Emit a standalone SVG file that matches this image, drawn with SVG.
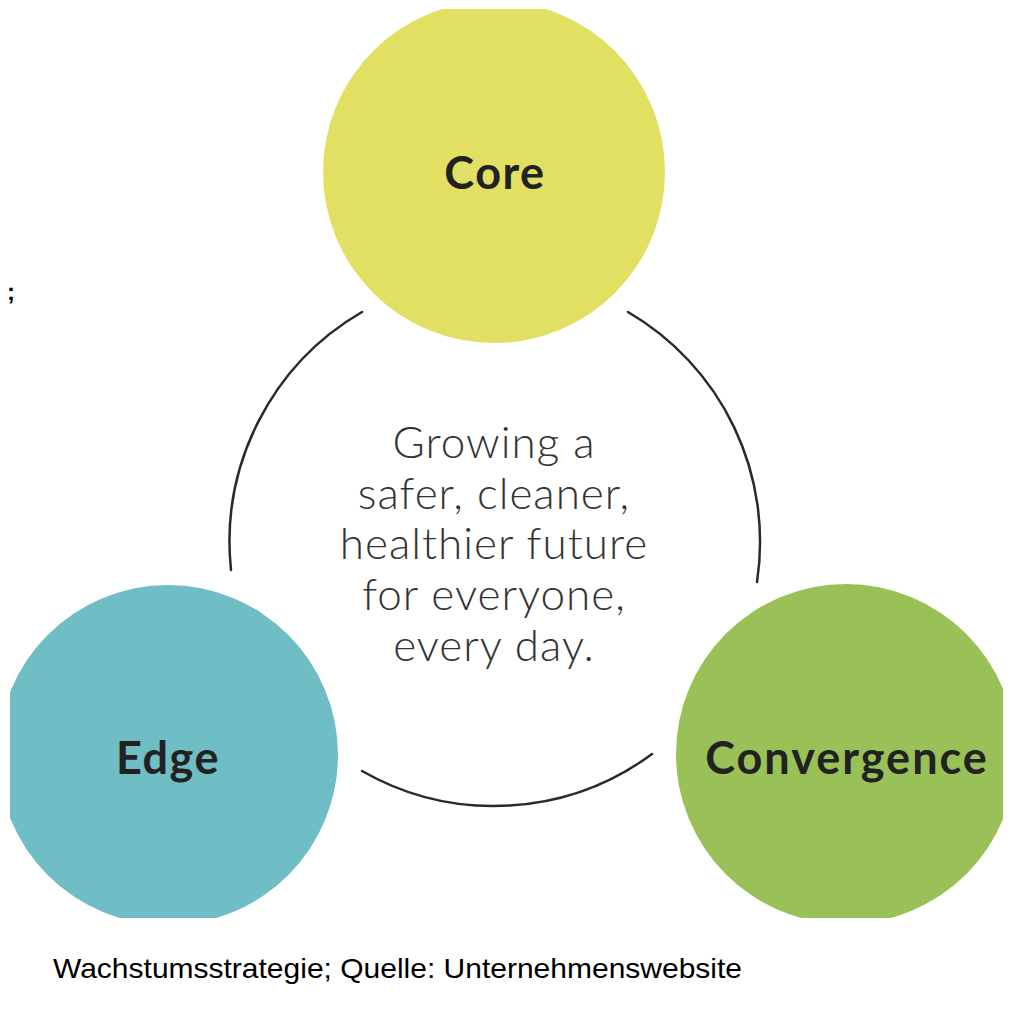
<svg xmlns="http://www.w3.org/2000/svg" width="1012" height="1024" viewBox="0 0 1012 1024">
<style>
.node-label{font-family:Lato,"Open Sans",sans-serif;font-weight:700;font-size:45px;fill:#222;text-anchor:middle;dominant-baseline:central;letter-spacing:1.5px}
.ring{fill:none;stroke:#2a2a2a;stroke-width:2.5;stroke-linecap:round}
.center{font-family:Lato,"Open Sans",sans-serif;font-weight:300;font-size:44px;fill:#333;text-anchor:middle;letter-spacing:1px}
.caption{font-family:"Liberation Sans",Arial,sans-serif;font-size:28px;fill:#000}
</style>
<defs>
<clipPath id="clip"><rect x="10" y="9" width="993" height="909"/></clipPath>
</defs>
<rect width="1012" height="1024" fill="#fff"/>
<g id="connectors">
<path class="ring" d="M362,312 A266,266 0 0 0 231,570"/>
<path class="ring" d="M628,312 A266,266 0 0 1 757,582"/>
<path class="ring" d="M362,771 A266,266 0 0 0 652,754"/>
</g>
<g id="center-text">
<text class="center" x="494" y="458">Growing a</text>
<text class="center" x="494" y="509">safer, cleaner,</text>
<text class="center" x="494" y="559">healthier future</text>
<text class="center" x="494" y="610">for everyone,</text>
<text class="center" x="494" y="661">every day.</text>
</g>
<g clip-path="url(#clip)">
<g id="node-core">
<circle cx="494" cy="172" r="171" fill="#E2E062"/>
<text class="node-label" x="495" y="172">Core</text>
</g>
<g id="node-edge">
<circle cx="168" cy="755" r="170" fill="#6FBDC5"/>
<text class="node-label" x="168" y="757">Edge</text>
</g>
<g id="node-convergence">
<circle cx="846" cy="754" r="170" fill="#9AC157"/>
<text class="node-label" x="847" y="757" style="letter-spacing:2px">Convergence</text>
</g>
</g>
<text x="7" y="300" font-family="Liberation Sans,Arial,sans-serif" font-size="24" font-weight="700" fill="#000">;</text>
<text class="caption" x="53" y="978" textLength="689" lengthAdjust="spacingAndGlyphs">Wachstumsstrategie; Quelle: Unternehmenswebsite</text>
</svg>
